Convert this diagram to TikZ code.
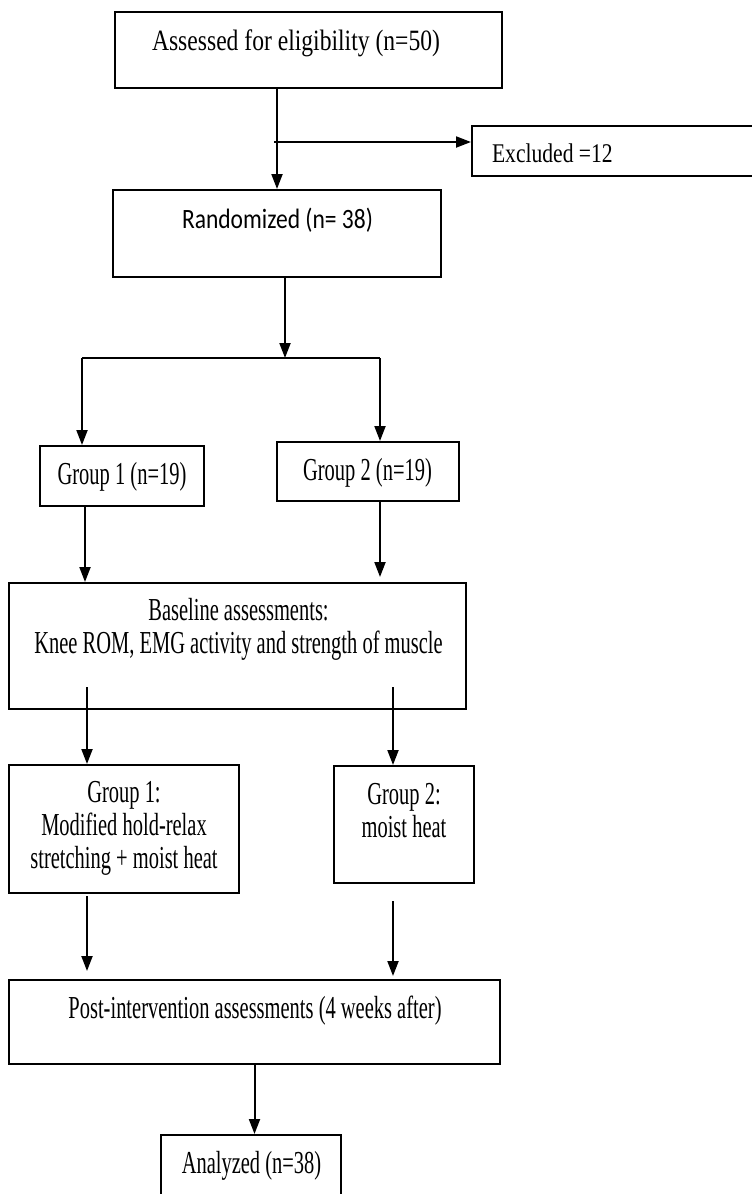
\documentclass[tikz,border=0pt]{standalone}
\usepackage{fontspec}
\setmainfont[FakeStretch=0.64]{Liberation Serif}
\newfontfamily\topfont[FakeStretch=0.8]{Liberation Serif}
\newfontfamily\calfont[FakeStretch=0.84]{Carlito}
\usetikzlibrary{arrows.meta}

\begin{document}
\begin{tikzpicture}[x=1pt, y=-1pt, line width=2pt, >={Triangle[length=15pt,width=11pt]},
 box/.style={draw, inner sep=0pt},
 lbl/.style={anchor=base, inner sep=0pt, align=center, font=\fontsize{32}{33}\selectfont}]
\useasboundingbox[fill=white] (0,0) rectangle (752,1194);
% boxes
\node[box, minimum width=387pt, minimum height=76pt] (assess) at (308.5,50) {};
\node[box, minimum width=328pt, minimum height=50pt] (excl) at (636,151) {};
\node[box, minimum width=328pt, minimum height=87pt] (rand) at (277,233.5) {};
\node[box, minimum width=164pt, minimum height=60pt] (g1) at (122,476) {};
\node[box, minimum width=182pt, minimum height=59pt] (g2) at (368,471.5) {};
\node[box, minimum width=457pt, minimum height=126pt] (base) at (237.5,646) {};
\node[box, minimum width=230pt, minimum height=128pt] (g1b) at (124,829) {};
\node[box, minimum width=140pt, minimum height=117pt] (g2b) at (404,824.5) {};
\node[box, minimum width=491pt, minimum height=84pt] (post) at (254.5,1022) {};
\node[box, minimum width=180pt, minimum height=95pt] (anal) at (251,1182.5) {};
% texts (base = last line)
\node[lbl, font=\topfont\fontsize{29.5}{32}\selectfont] (assess-t) at (296,50) {Assessed for eligibility (n=50)};
\node[lbl, anchor=base west, font=\topfont\fontsize{27}{30}\selectfont] (excl-t) at (491,162) {Excluded =12};
\node[lbl, font=\calfont\fontsize{28}{31}\selectfont] (rand-t) at (277.5,228) {Randomized (n= 38)};
\node[lbl] (g1-t) at (122,484) {Group 1 (n=19)};
\node[lbl] (g2-t) at (367.5,480) {Group 2 (n=19)};
\node[lbl] (base-t) at (238.5,653) {Baseline assessments:\\Knee ROM, EMG activity and strength of muscle};
\node[lbl] (g1b-t) at (124,868) {Group 1:\\Modified hold-relax\\stretching + moist heat};
\node[lbl] (g2b-t) at (404,837) {Group 2:\\moist heat};
\node[lbl] (post-t) at (255,1018) {Post-intervention assessments (4 weeks after)};
\node[lbl] (anal-t) at (251.5,1173) {Analyzed (n=38)};
% connectors
\coordinate (split) at (274,142);
\coordinate (fork) at (285,358);
\coordinate (forkL) at (82,358);
\coordinate (forkR) at (380,358);
\coordinate (b1) at (87,687);
\coordinate (b2) at (393,687);
\draw[->] (assess.south -| rand.north) -- (rand.north);
\draw[->] (split) -- (split -| excl.west);
\draw[->] (rand.south -| fork) -- (fork);
\draw (forkL) -- (forkR);
\draw[->] (forkL) -- (forkL |- g1.north);
\draw[->] (forkR) -- (forkR |- g2.north);
\draw[->] ([xshift=-37pt]g1.south) -- ([xshift=-37pt]g1.south |- base.north);
\draw[->, shorten >=5pt] ([xshift=12pt]g2.south) -- ([xshift=12pt]g2.south |- base.north);
\draw[->] (b1) -- (b1 |- g1b.north);
\draw[->] (b2) -- (b2 |- g2b.north);
\draw[->, shorten <=2pt, shorten >=8pt] (g1b.south -| b1) -- (b1 |- post.north);
\draw[->, shorten <=17pt, shorten >=3pt] (g2b.south -| b2) -- (b2 |- post.north);
\draw[->] (post.south) -- (post.south |- anal.north);
\end{tikzpicture}
\end{document}
